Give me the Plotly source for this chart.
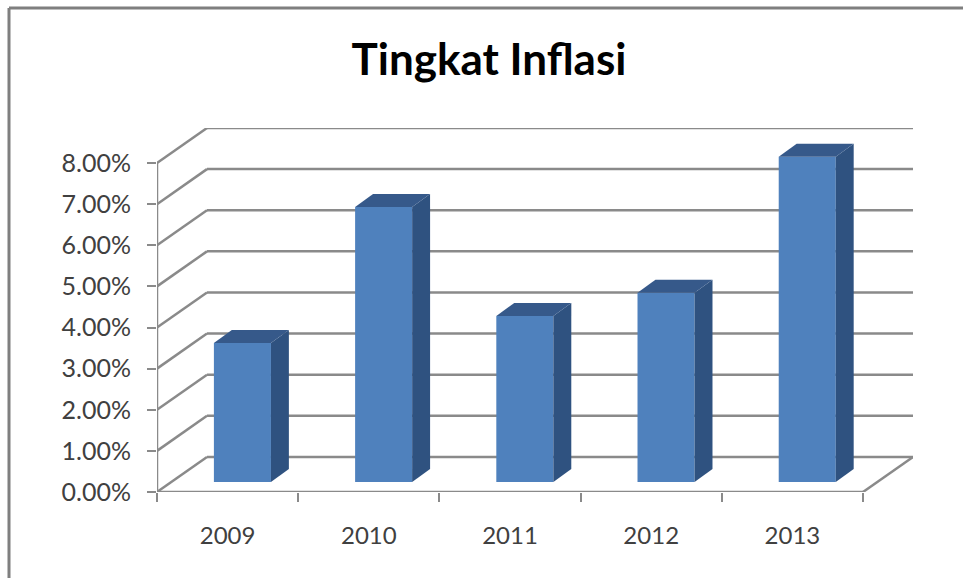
import plotly.graph_objects as go

# Data
categories = ["2009", "2010", "2011", "2012", "2013"]
inflation = [3.38, 6.69, 4.04, 4.60, 7.91]
y_ticks = [0, 1, 2, 3, 4, 5, 6, 7, 8]
y_labels = ["0.00%", "1.00%", "2.00%", "3.00%", "4.00%", "5.00%", "6.00%", "7.00%", "8.00%"]

# Oblique projection of the 3-D Excel look, in axis units
WALL_DX, WALL_DY = 0.354, 0.852     # depth of the floor
BAR_SHIFT_DX, BAR_BASE = 0.105, 0.243   # bars sit a little behind the front edge
BAR_W = 0.404
BAR_DX, BAR_DY = 0.127, 0.316      # depth of each bar

GRID = "#8A8A8A"
FRONT = "#4F81BD"
SIDE = "#2F5280"
TOP = "#36598A"
TEXT = "#404040"

W, H = 963, 578
L, R, T, B = 157, 50, 128, 86
FONT = "Lato, Carlito, Calibri, sans-serif"

n = len(categories)
centers = [i + 0.5 + BAR_SHIFT_DX for i in range(n)]

fig = go.Figure()
fig.add_trace(go.Bar(x=centers, y=inflation, base=BAR_BASE, width=BAR_W,
                     marker=dict(color=FRONT, line=dict(width=0)),
                     showlegend=False, hoverinfo="skip"))

for c, v in zip(centers, inflation):
    xl, xr = c - BAR_W / 2, c + BAR_W / 2
    top = BAR_BASE + v
    fig.add_trace(go.Scatter(
        x=[xr, xr + BAR_DX, xr + BAR_DX, xr, xr],
        y=[BAR_BASE, BAR_BASE + BAR_DY, top + BAR_DY, top, BAR_BASE],
        fill="toself", fillcolor=SIDE, mode="lines", line=dict(width=0),
        showlegend=False, hoverinfo="skip"))
    fig.add_trace(go.Scatter(
        x=[xl, xl + BAR_DX, xr + BAR_DX, xr, xl],
        y=[top, top + BAR_DY, top + BAR_DY, top, top],
        fill="toself", fillcolor=TOP, mode="lines", line=dict(width=0),
        showlegend=False, hoverinfo="skip"))

shapes = []
line = dict(color=GRID, width=2.5)
for v in y_ticks:
    shapes.append(dict(type="line", xref="x", yref="y", x0=0, y0=v, x1=WALL_DX, y1=v + WALL_DY,
                       line=line, layer="below"))
    shapes.append(dict(type="line", xref="x", yref="y", x0=WALL_DX, y0=v + WALL_DY, x1=n + WALL_DX, y1=v + WALL_DY,
                       line=line, layer="below"))
# front axis lines and floor edge
shapes.append(dict(type="line", xref="x", yref="y", x0=0, y0=0, x1=0, y1=y_ticks[-1], line=line, layer="below"))
shapes.append(dict(type="line", xref="x", yref="y", x0=0, y0=0, x1=n, y1=0, line=line, layer="below"))
shapes.append(dict(type="line", xref="x", yref="y", x0=n, y0=0, x1=n + WALL_DX, y1=WALL_DY, line=line, layer="below"))

# picture frame along the top and left edge
pw, ph = W - L - R, H - T - B
fx = lambda px: (px - L) / pw
fy = lambda py: 1 - (py - T) / ph
frame = dict(color="#7F7F7F", width=3)
shapes.append(dict(type="line", xref="paper", yref="paper", x0=fx(9), y0=fy(8), x1=fx(W), y1=fy(8), line=frame))
shapes.append(dict(type="line", xref="paper", yref="paper", x0=fx(9), y0=fy(8), x1=fx(9), y1=fy(H), line=frame))

fig.update_layout(
    width=W, height=H,
    margin=dict(l=L, r=R, t=T, b=B, pad=0),
    paper_bgcolor="white", plot_bgcolor="white",
    showlegend=False,
    shapes=shapes,
    title=dict(text="<b>Tingkat Inflasi</b>", x=489 / W, xanchor="center", y=1 - 60 / H, yanchor="middle",
               font=dict(family=FONT, size=44, color="black")),
    xaxis=dict(range=[0, n + WALL_DX], showgrid=False, zeroline=False, showline=False,
               tickmode="array", tickvals=[i + 0.5 for i in range(n)], ticktext=categories,
               ticks="", ticklen=0, ticklabelstandoff=27,
               tickfont=dict(family=FONT, size=24, color=TEXT),
               minor=dict(tickmode="array", tickvals=list(range(n + 1)), ticks="outside", ticklen=9,
                          tickcolor=GRID, tickwidth=2, showgrid=False)),
    yaxis=dict(range=[0, y_ticks[-1] + WALL_DY], showgrid=False, zeroline=False, showline=False,
               tickmode="array", tickvals=y_ticks, ticktext=y_labels,
               ticks="outside", ticklen=9, tickcolor=GRID, tickwidth=2, ticklabelstandoff=11,
               tickfont=dict(family=FONT, size=25, color=TEXT)),
)

fig.write_html("out.html", config=dict(displayModeBar=False),
               post_script="document.body.style.margin='0';document.body.style.overflow='hidden';")
